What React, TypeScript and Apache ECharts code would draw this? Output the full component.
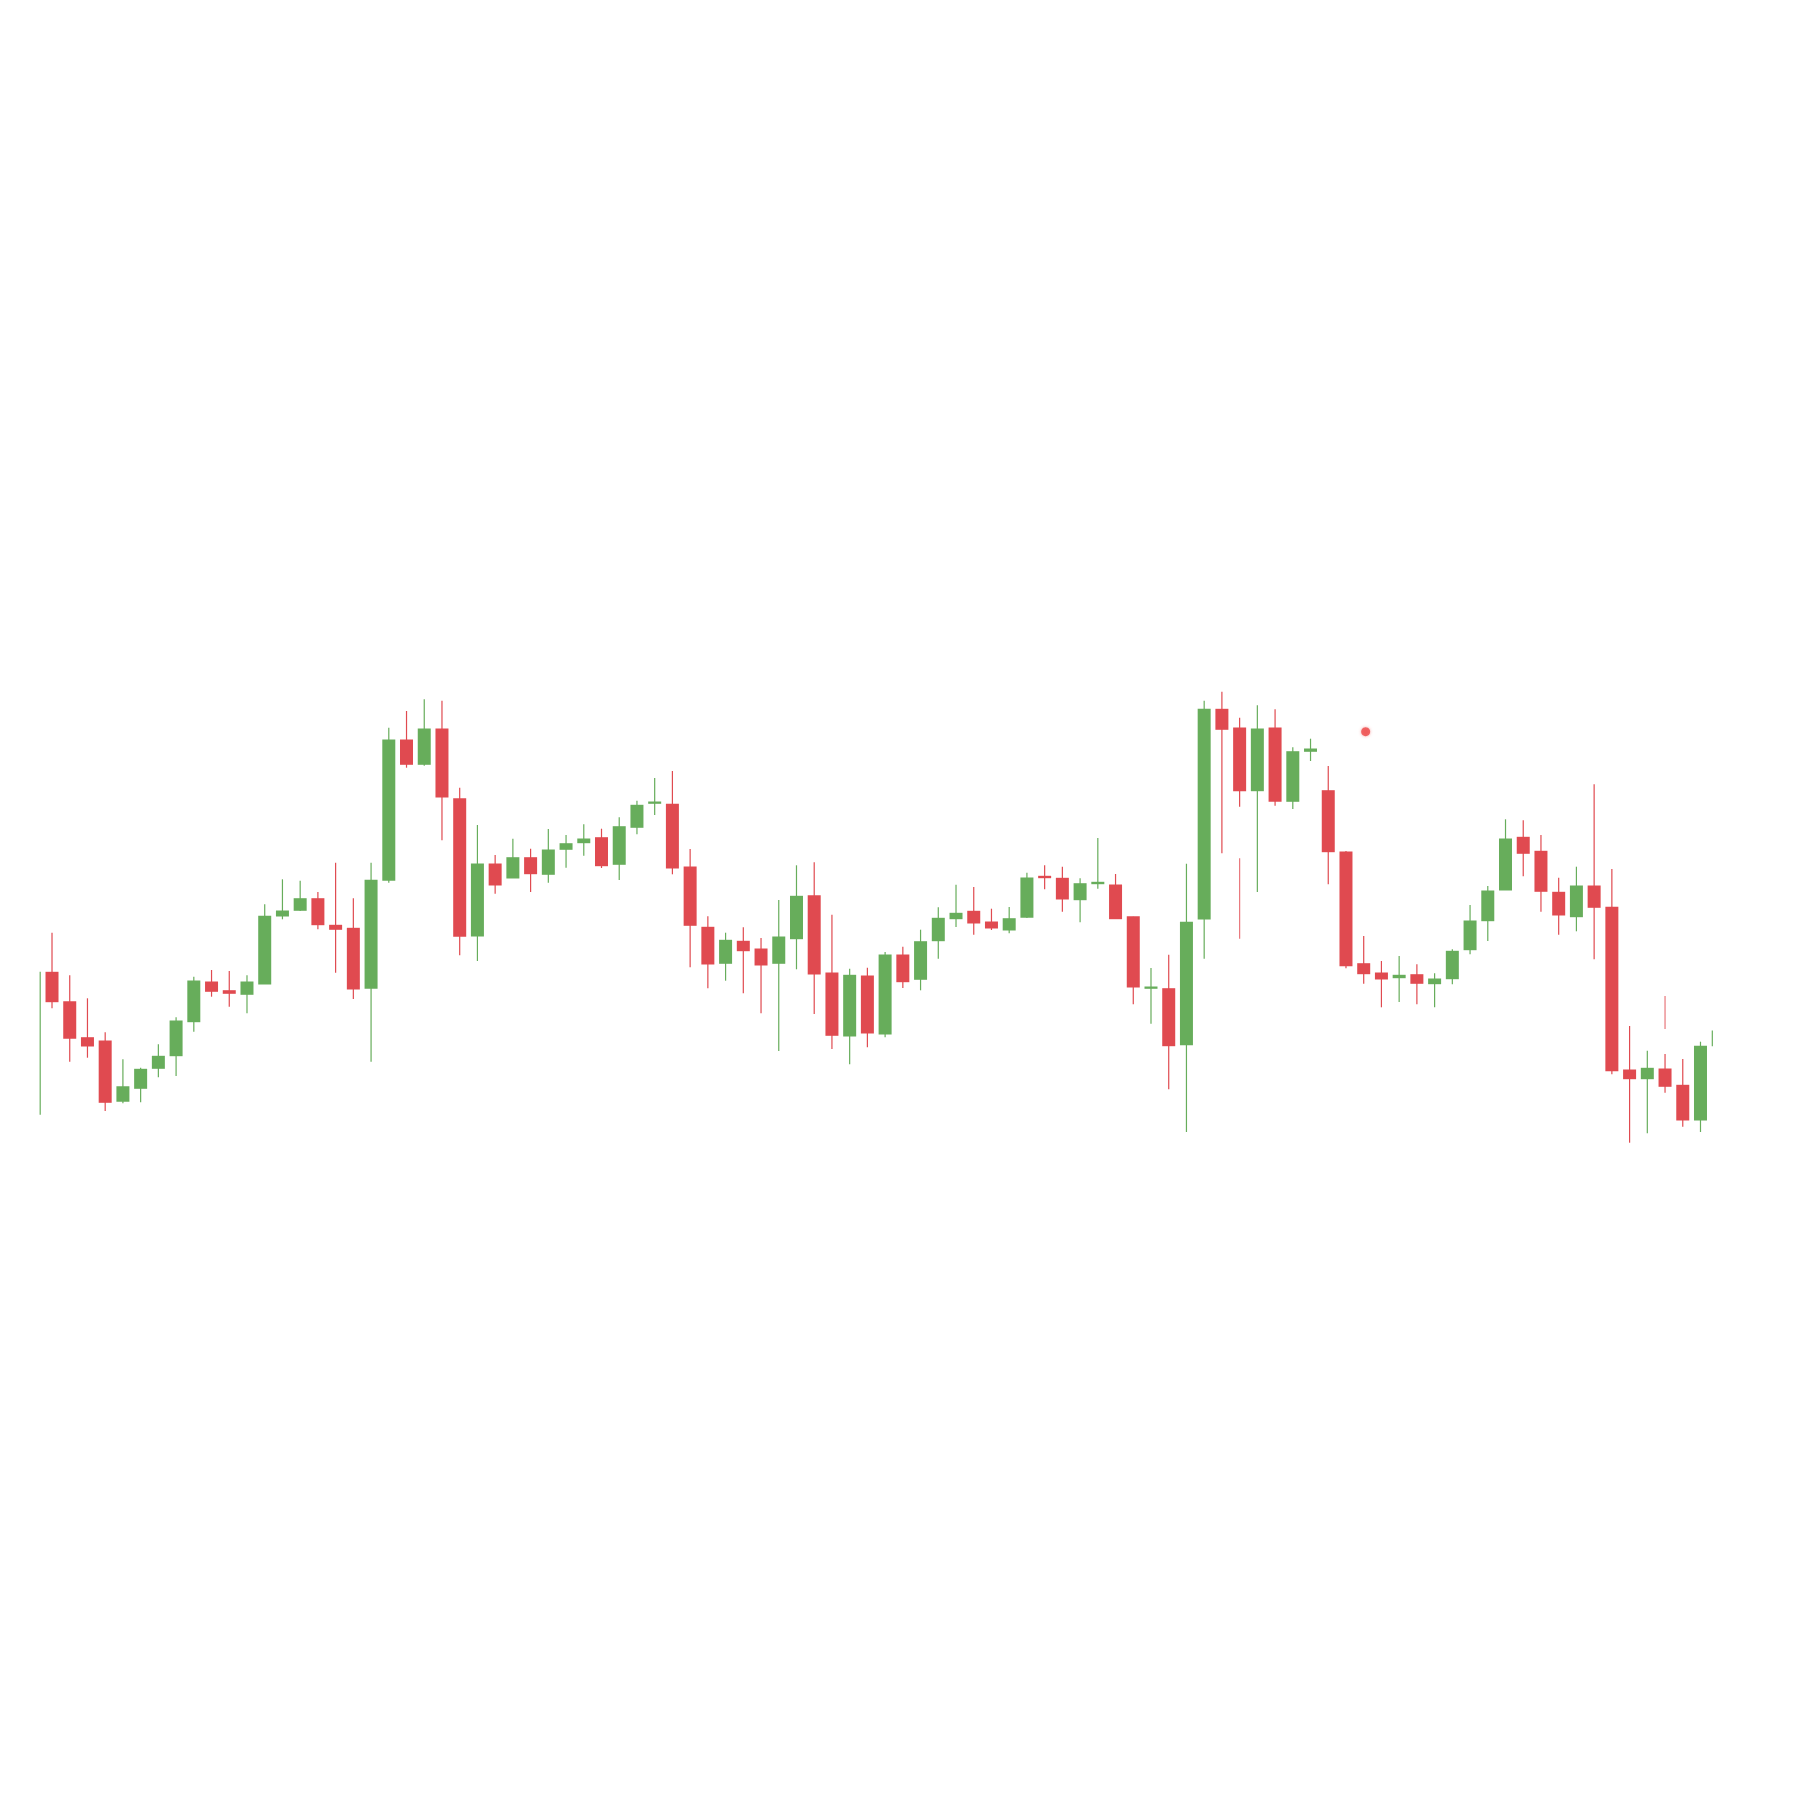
import React, { useEffect, useRef } from "react";
import * as echarts from "echarts";

// OHLC values (index = candle position)
const openValues = [
  8.57, 22.77, 19.83, 16.23, 15.9, 9.87, 11.17, 13.17, 14.43, 17.83,
  21.8, 20.93, 20.57, 21.6, 28.4, 28.97, 30.13, 27.47, 27.17, 21.17,
  31.97, 46.0, 43.57, 47.1, 40.13, 26.4, 33.6, 32.2, 34.23, 32.57,
  35.07, 35.73, 36.23, 33.57, 37.27, 39.67, 39.57, 33.3, 27.27, 23.67,
  25.87, 25.1, 23.67, 26.13, 30.43, 22.7, 16.4, 22.4, 16.6, 24.5,
  22.07, 25.93, 28.13, 28.87, 27.8, 27.0, 28.27, 32.37, 32.17, 30.03,
  31.63, 31.5, 28.33, 21.17, 21.13, 15.53, 28.1, 49.07, 47.2, 40.93,
  47.2, 39.87, 44.87, 40.93, 34.8, 23.63, 22.7, 22.23, 22.53, 21.63,
  22.13, 25.03, 27.93, 31.0, 36.27, 34.87, 30.77, 28.33, 31.4, 29.27,
  13.0, 12.13, 13.1, 11.47, 8.0, 15.43,
];
const closeValues = [
  22.77, 19.83, 16.17, 15.4, 9.77, 11.33, 13.07, 14.37, 17.9, 21.9,
  20.87, 20.67, 21.8, 28.37, 28.9, 30.13, 27.53, 27.07, 21.1, 31.97,
  46.0, 43.57, 47.1, 40.3, 26.37, 33.6, 31.5, 34.23, 32.63, 35.0,
  35.63, 36.1, 33.43, 37.33, 39.47, 39.8, 33.2, 27.47, 23.6, 25.97,
  24.93, 23.5, 26.3, 30.37, 22.6, 16.47, 22.47, 16.7, 24.5, 21.83,
  25.83, 28.17, 28.67, 27.7, 27.2, 28.13, 32.2, 32.23, 30.1, 31.63,
  31.77, 28.13, 21.3, 21.3, 15.43, 27.77, 49.07, 47.07, 40.93, 47.1,
  39.87, 44.83, 45.1, 34.83, 23.43, 22.63, 22.1, 22.47, 21.67, 22.1,
  24.87, 27.9, 30.9, 36.1, 34.67, 30.87, 28.5, 31.4, 29.27, 12.93,
  12.13, 13.17, 11.37, 8.0, 15.37, 16.9,
];
const lowValues = [
  8.57, 19.17, 13.83, 14.23, 8.9, 9.67, 9.77, 12.27, 12.4, 16.83,
  20.33, 19.33, 18.67, 21.6, 28.07, 28.9, 27.07, 22.73, 20.1, 13.83,
  31.73, 43.23, 43.43, 35.97, 24.47, 23.9, 30.63, 32.2, 30.8, 31.73,
  33.23, 34.43, 33.2, 32.0, 36.57, 38.5, 32.57, 23.27, 21.17, 21.93,
  20.67, 18.67, 14.9, 23.07, 18.6, 15.1, 13.57, 15.27, 16.27, 21.2,
  20.97, 24.13, 27.3, 26.53, 27.0, 26.67, 28.2, 31.07, 28.83, 27.77,
  31.13, 28.13, 19.57, 17.63, 11.07, 6.8, 24.13, 34.67, 39.33, 30.8,
  39.43, 39.1, 43.9, 31.57, 23.17, 21.63, 19.27, 19.8, 19.57, 19.27,
  21.57, 24.57, 25.9, 31.0, 32.37, 28.83, 26.53, 26.87, 24.07, 12.57,
  5.73, 6.67, 10.73, 7.33, 6.8, 15.43,
];
const highValues = [
  22.77, 26.73, 22.47, 20.17, 16.77, 14.07, 13.23, 15.57, 18.27, 22.33,
  23.0, 22.9, 22.47, 29.57, 32.07, 31.93, 30.8, 33.73, 30.17, 33.73,
  47.23, 48.9, 50.07, 49.93, 41.23, 37.5, 34.5, 36.13, 35.13, 37.1,
  36.5, 37.57, 37.13, 38.27, 39.93, 42.2, 42.9, 35.1, 28.37, 26.73,
  27.27, 26.2, 30.0, 33.47, 33.77, 28.53, 23.13, 23.23, 24.8, 25.33,
  27.03, 29.27, 31.53, 31.3, 29.13, 29.3, 32.73, 33.47, 33.33, 32.17,
  36.2, 32.6, 28.33, 23.2, 24.53, 33.63, 49.93, 50.83, 48.23, 49.47,
  49.07, 45.27, 46.13, 43.4, 34.9, 26.4, 23.9, 24.4, 23.57, 22.67,
  25.07, 29.5, 31.4, 38.07, 37.97, 36.5, 32.23, 33.33, 41.57, 33.1,
  17.4, 14.93, 14.6, 14.1, 15.83, 16.9,
];

// detached wick fragments: index, low, high
const fragmentIndex = [68, 92];
const fragmentLow = [26.13, 17.1];
const fragmentHigh = [34.17, 20.4];

// marker point: [position, value]
const markerPoint = [75.11, 46.83];

const UP = "#67ad5b";
const DOWN = "#e04a50";
const BODY_WIDTH = 13;

export default function App() {
  const ref = useRef<HTMLDivElement>(null);

  useEffect(() => {
    if (!ref.current) return;
    const chart = echarts.init(ref.current, undefined, { renderer: "svg" });

    const candleData = openValues.map((o, i) => [
      i,
      o,
      closeValues[i],
      lowValues[i],
      highValues[i],
    ]);
    const fragmentData = fragmentIndex.map((x, i) => [
      x,
      fragmentLow[i],
      fragmentHigh[i],
    ]);

    const renderCandle = (params: any, api: any) => {
      const x = api.value(0);
      const o = api.value(1);
      const c = api.value(2);
      const l = api.value(3);
      const h = api.value(4);
      const pO = api.coord([x, o]);
      const pC = api.coord([x, c]);
      const pL = api.coord([x, l]);
      const pH = api.coord([x, h]);
      const cs = params.coordSys;
      const color = c >= o ? UP : DOWN;
      const top = Math.min(pO[1], pC[1]);
      const height = Math.abs(pO[1] - pC[1]) + 1;
      const body = echarts.graphic.clipRectByRect(
        { x: pO[0] - BODY_WIDTH / 2, y: top - 0.5, width: BODY_WIDTH, height },
        { x: cs.x, y: cs.y, width: cs.width, height: cs.height }
      );
      const children: any[] = [];
      if (pO[0] >= cs.x && pO[0] <= cs.x + cs.width) {
        children.push({
          type: "line",
          shape: { x1: pO[0], y1: pH[1], x2: pO[0], y2: pL[1] },
          style: { stroke: color, lineWidth: 1.2 },
        });
      }
      if (body) {
        children.push({ type: "rect", shape: body, style: { fill: color } });
      }
      return { type: "group", children };
    };

    const renderFragment = (params: any, api: any) => {
      const x = api.value(0);
      const pL = api.coord([x, api.value(1)]);
      const pH = api.coord([x, api.value(2)]);
      return {
        type: "line",
        shape: { x1: pL[0], y1: pH[1], x2: pL[0], y2: pL[1] },
        style: { stroke: DOWN, lineWidth: 1.2, opacity: 0.75 },
      };
    };

    chart.setOption({
      animation: false,
      backgroundColor: "#ffffff",
      grid: { left: 39.6, width: 1673.3, top: 600, height: 600 },
      xAxis: {
        type: "value",
        min: 0.3,
        max: 94.7,
        show: false,
        splitLine: { show: false },
      },
      yAxis: {
        type: "value",
        min: 0,
        max: 60,
        show: false,
        splitLine: { show: false },
      },
      series: [
        {
          type: "custom",
          data: candleData,
          encode: { x: 0, y: [1, 2, 3, 4] },
          renderItem: renderCandle,
        },
        {
          type: "custom",
          data: fragmentData,
          encode: { x: 0, y: [1, 2] },
          renderItem: renderFragment,
        },
        {
          type: "scatter",
          data: [markerPoint],
          symbolSize: 9,
          itemStyle: {
            color: "#ee4848",
            shadowBlur: 3,
            shadowColor: "rgba(238,72,72,0.6)",
          },
        },
      ],
    });

    return () => chart.dispose();
  }, []);

  return (
    <div
      ref={ref}
      style={{
        position: "absolute",
        left: 0,
        top: 0,
        width: 1800,
        height: 1800,
      }}
    />
  );
}
